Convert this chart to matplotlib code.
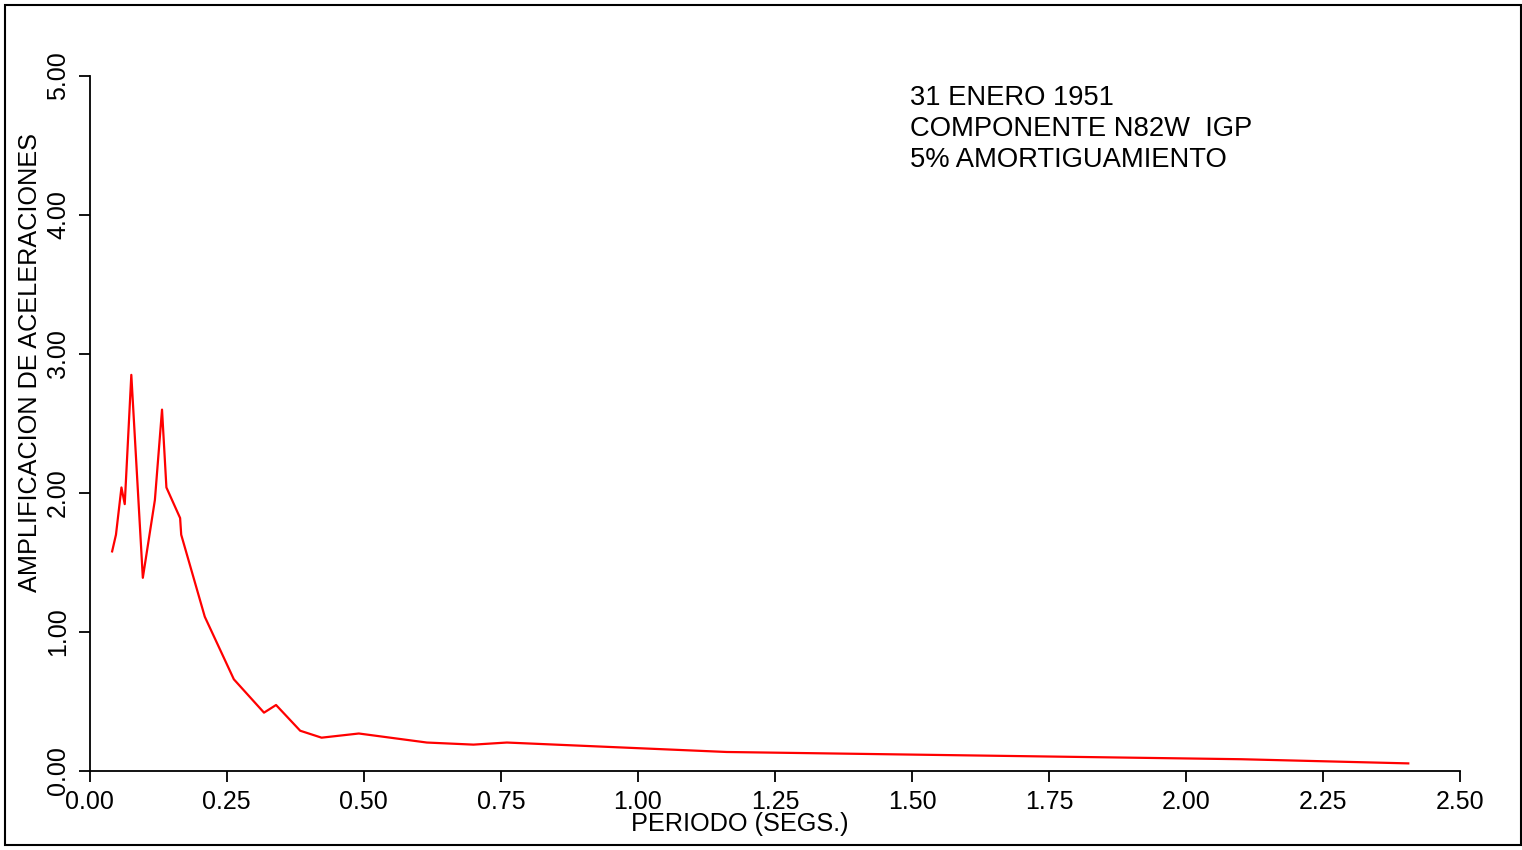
import numpy as np
import matplotlib
matplotlib.use("Agg")
import matplotlib.pyplot as plt
from matplotlib.patches import Rectangle

plt.rcParams['font.family'] = ['Liberation Sans', 'DejaVu Sans']

# spectral amplification
periodo = [0.041, 0.048, 0.058, 0.064, 0.076, 0.097, 0.119, 0.132, 0.140,
           0.165, 0.167, 0.210, 0.263, 0.318, 0.340, 0.384, 0.423, 0.491,
           0.615, 0.700, 0.761, 1.162, 2.100, 2.405]
amplif = [1.58, 1.70, 2.04, 1.92, 2.85, 1.39, 1.95, 2.60, 2.04,
          1.82, 1.70, 1.11, 0.66, 0.42, 0.475, 0.29, 0.24, 0.27,
          0.205, 0.19, 0.205, 0.137, 0.085, 0.055]

xticks = [0.0, 0.25, 0.5, 0.75, 1.0, 1.25, 1.5, 1.75, 2.0, 2.25, 2.5]
yticks = [0.0, 1.0, 2.0, 3.0, 4.0, 5.0]
info = ["31 ENERO 1951", "COMPONENTE N82W  IGP", "5% AMORTIGUAMIENTO"]

fig = plt.figure(figsize=(15.22, 8.5), dpi=100)
ax = fig.add_axes([0.0589, 0.0929, 0.9006, 0.8177])

ax.plot(periodo, amplif, color='#ff0000', lw=1.6)

ax.set_xlim(0, 2.5)
ax.set_ylim(0, 5)
for s in ['top', 'right']:
    ax.spines[s].set_visible(False)
ax.spines['left'].set_bounds(0, 5)
ax.spines['bottom'].set_bounds(0, 2.5)
for s in ['left', 'bottom']:
    ax.spines[s].set_linewidth(1.3)

ax.set_xticks(xticks)
ax.set_xticklabels(["%.2f" % t for t in xticks])
ax.set_yticks(yticks)
ax.set_yticklabels(["%.2f" % t for t in yticks], rotation=90, va='center')
ax.tick_params(direction='out', length=8, width=1.3, labelsize=18, pad=6)
ax.tick_params(axis='y', pad=6)

fig.text(0.486, 0.030, "PERIODO (SEGS.)", ha='center', va='center', fontsize=18.2)
fig.text(0.020, 0.574, "AMPLIFICACION DE ACELERACIONES", rotation=90,
         ha='center', va='center', fontsize=18.2)

for i, line in enumerate(info):
    fig.text(0.598, 1 - (98 + 31 * i) / 850, line, ha='left', va='center', fontsize=19.7)

fig.patches.append(Rectangle((5 / 1522, 5 / 850), 1516 / 1522, 840 / 850,
                             transform=fig.transFigure, fill=False,
                             edgecolor='black', lw=1.5))

fig.savefig("out.png", dpi=100)
